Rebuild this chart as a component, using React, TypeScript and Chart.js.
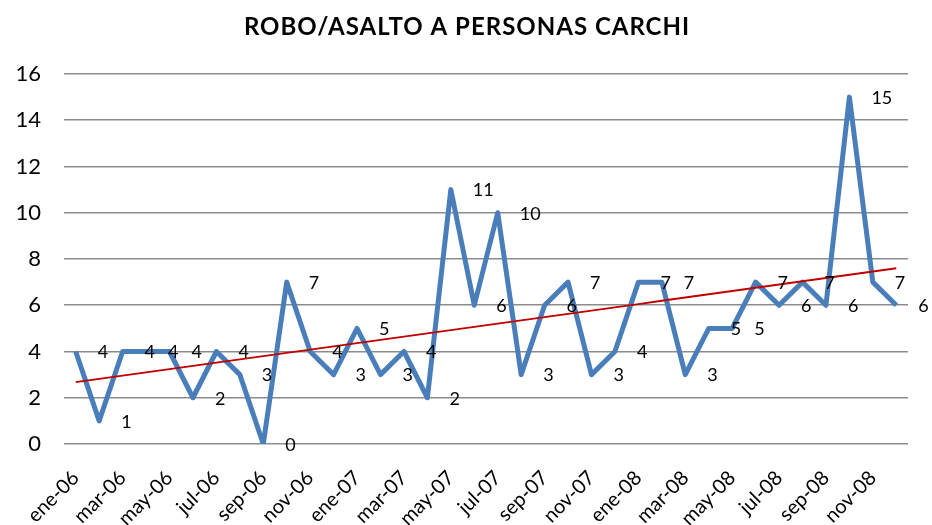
import React, { useEffect, useRef } from "react";
import { Chart, registerables } from "chart.js";

Chart.register(...registerables);

const TITLE = "ROBO/ASALTO A PERSONAS CARCHI";
const MONTHS = ["ene", "feb", "mar", "abr", "may", "jun", "jul", "ago", "sep", "oct", "nov", "dic"];
const YEARS = ["06", "07", "08"];
const CATEGORIES: string[] = [];
YEARS.forEach((y) => MONTHS.forEach((m) => CATEGORIES.push(`${m}-${y}`)));

const VALUES_2006 = [4, 1, 4, 4, 4, 2, 4, 3, 0, 7, 4, 3];
const VALUES_2007 = [5, 3, 4, 2, 11, 6, 10, 3, 6, 7, 3, 4];
const VALUES_2008 = [7, 7, 3, 5, 5, 7, 6, 7, 6, 15, 7, 6];
const VALUES = [...VALUES_2006, ...VALUES_2007, ...VALUES_2008];

const Y_MIN = 0;
const Y_MAX = 16;
const Y_STEP = 2;

// Linear trendline (least squares) computed from the series
function trend(values: number[]): number[] {
  const n = values.length;
  let sx = 0, sy = 0, sxy = 0, sxx = 0;
  values.forEach((v, i) => {
    sx += i; sy += v; sxy += i * v; sxx += i * i;
  });
  const slope = (n * sxy - sx * sy) / (n * sxx - sx * sx);
  const intercept = (sy - slope * sx) / n;
  return values.map((_, i) => intercept + slope * i);
}
const TREND = trend(VALUES);

const FONT = "Lato, 'Open Sans', sans-serif";

export default function App() {
  const ref = useRef<HTMLCanvasElement | null>(null);
  useEffect(() => {
    document.body.style.margin = "0";
    const canvas = ref.current!;
    const titlePlugin = {
      id: "customTitle",
      afterDraw(chart: any) {
        const ctx = chart.ctx;
        ctx.save();
        ctx.font = `bold 24px ${FONT}`;
        try { (ctx as any).letterSpacing = "1px"; } catch (e) {}
        ctx.fillStyle = "#000";
        ctx.textAlign = "center";
        ctx.textBaseline = "middle";
        ctx.fillText(TITLE, 467, 27);
        ctx.restore();
      },
    };
    const labelPlugin = {
      id: "dataLabels",
      afterDatasetsDraw(chart: any) {
        const ctx = chart.ctx;
        const meta = chart.getDatasetMeta(0);
        ctx.save();
        ctx.font = `18px ${FONT}`;
        ctx.fillStyle = "#000";
        ctx.textAlign = "left";
        ctx.textBaseline = "middle";
        meta.data.forEach((pt: any, i: number) => {
          ctx.fillText(String(VALUES[i]), pt.x + 22, pt.y + 1);
        });
        ctx.restore();
      },
    };
    const chart = new Chart(canvas, {
      type: "line",
      data: {
        labels: CATEGORIES,
        datasets: [
          {
            data: VALUES,
            borderColor: "#4A7EBB",
            borderWidth: 5,
            pointRadius: 0,
            tension: 0,
            borderJoinStyle: "round",
            order: 1,
          },
          {
            data: TREND,
            borderColor: "#C00000",
            borderWidth: 1.8,
            pointRadius: 0,
            tension: 0,
            order: 0,
          },
        ],
      },
      options: {
        animation: false,
        responsive: false,
        layout: { padding: { top: 74, right: 24, left: 0, bottom: 0 } },
        plugins: {
          legend: { display: false },
          title: { display: false },
          tooltip: { enabled: false },
        },
        scales: {
          x: {
            offset: true,
            grid: { display: false, drawTicks: false },
            border: { display: false },
            ticks: {
              autoSkip: false,
              minRotation: 45,
              maxRotation: 45,
              padding: 22,
              color: "#000",
              font: { family: FONT, size: 20 },
              callback: (_v: any, i: number) => (i % 2 === 0 ? CATEGORIES[i] : ""),
            },
            afterFit: (s: any) => {
              s.height = 81;
              s.paddingLeft = 0;
              s.paddingRight = 0;
            },
          },
          y: {
            min: Y_MIN,
            max: Y_MAX,
            grid: { color: "#8c8c8c", lineWidth: 1.6, drawTicks: false },
            border: { display: false },
            ticks: {
              stepSize: Y_STEP,
              padding: 23,
              color: "#000",
              font: { family: FONT, size: 22 },
            },
            afterFit: (s: any) => {
              s.width = 64;
              s.paddingTop = 0;
              s.paddingBottom = 0;
            },
          },
        },
      },
      plugins: [titlePlugin, labelPlugin],
    } as any);
    return () => chart.destroy();
  }, []);
  return (
    <div style={{ width: 932, height: 525 }}>
      <canvas ref={ref} width={932} height={525} style={{ display: "block" }} />
    </div>
  );
}
